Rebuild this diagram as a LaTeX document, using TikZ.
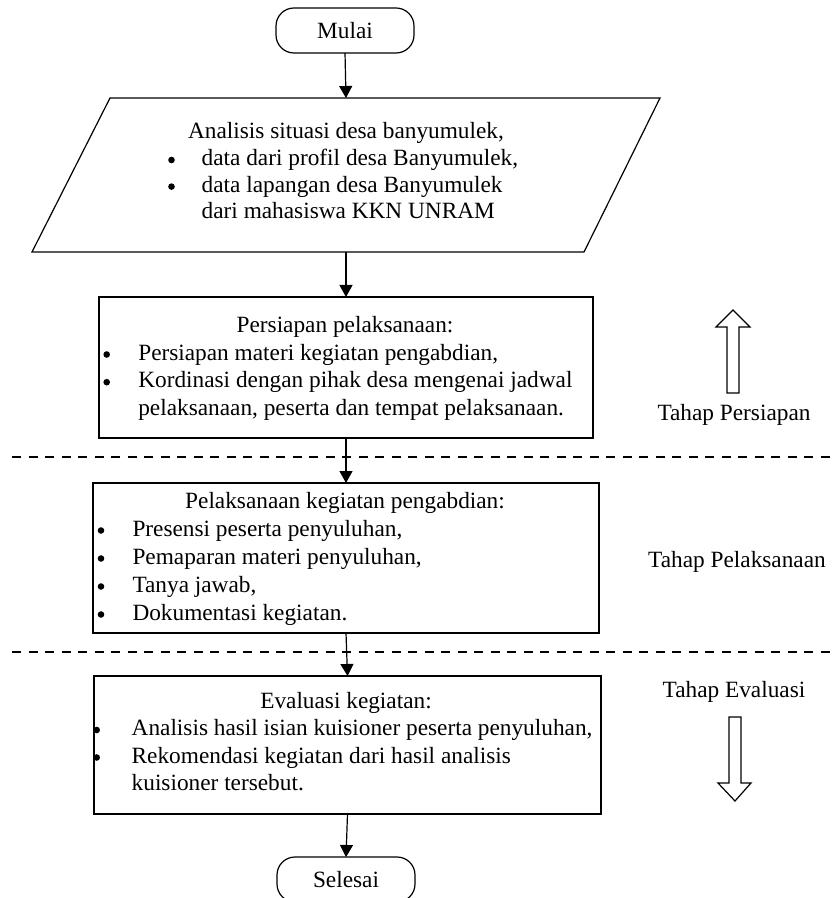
\documentclass[tikz,border=0pt]{standalone}
\usepackage{fontspec}
\setmainfont{Liberation Serif}
\usetikzlibrary{arrows.meta,calc}
\begin{document}
\begin{tikzpicture}[x=0.5pt,y=-0.5pt, line width=0.6pt,
  every node/.style={font=\fontsize{11.65}{14}\selectfont, inner sep=0pt, outer sep=0pt},
  term/.style={draw, rounded corners=9pt, minimum width=69pt, minimum height=22.5pt},
  box/.style={draw},
  flow/.style={-{Triangle[length=6pt,width=6.5pt]}},
  phase/.style={dash pattern=on 4.5pt off 3.75pt},
  lst/.style={anchor=base west, align=left},
  ttl/.style={anchor=base},
  dot/.style={fill=black},
]
\useasboundingbox (0,0) rectangle (836,898);
\fill[white] (0,0) rectangle (836,898);

% terminators
\node[term] (mulai) at (345,30.5) {Mulai};
\node[term] (selesai) at (346,879.5) {Selesai};

% parallelogram
\node[minimum width=314pt, minimum height=77pt] (para) at (346,175) {};
\draw (para.south west) -- ($(para.north west)+(78,0)$) -- (para.north east) -- ($(para.south east)+(-76,0)$) -- cycle;
\node[ttl] (paraT) at (346,138.5) {Analisis situasi desa banyumulek,};
\node[lst] (paraL) at (201.7,165.5) {\renewcommand\arraystretch{0.95}\begin{tabular}[t]{@{}l@{}}
data dari profil desa Banyumulek,\\
data lapangan desa Banyumulek\\
dari mahasiswa KKN UNRAM\end{tabular}};
\fill[dot] (171.5,160) circle (1.65pt);
\fill[dot] (171.5,186.6) circle (1.65pt);

% box 1
\node[box, minimum width=247pt, minimum height=70.5pt] (b1) at (346,367.5) {};
\node[ttl] (b1T) at (345,332) {Persiapan pelaksanaan:};
\node[lst] (b1L) at (138.3,360) {\renewcommand\arraystretch{0.99}\begin{tabular}[t]{@{}l@{}}
Persiapan materi kegiatan pengabdian,\\
Kordinasi dengan pihak desa mengenai jadwal\\
pelaksanaan, peserta dan tempat pelaksanaan.\end{tabular}};
\fill[dot] (106.7,354.5) circle (1.65pt);
\fill[dot] (106.7,382.2) circle (1.65pt);

% box 2
\node[box, minimum width=253pt, minimum height=75pt] (b2) at (346,558) {};
\node[ttl] (b2T) at (345,508) {Pelaksanaan kegiatan pengabdian:};
\node[lst] (b2L) at (132.5,536) {\begin{tabular}[t]{@{}l@{}}
Presensi peserta penyuluhan,\\
Pemaparan materi penyuluhan,\\
Tanya jawab,\\
Dokumentasi kegiatan.\end{tabular}};
\fill[dot] (101,530.5) circle (1.65pt);
\fill[dot] (101,558.5) circle (1.65pt);
\fill[dot] (101,586.5) circle (1.65pt);
\fill[dot] (101,614.5) circle (1.65pt);

% box 3
\node[box, minimum width=253.5pt, minimum height=69pt] (b3) at (347.5,745) {};
\node[ttl] (b3T) at (346,708) {Evaluasi kegiatan:};
\node[lst] (b3L) at (131.7,735.5) {\renewcommand\arraystretch{0.982}\begin{tabular}[t]{@{}l@{}}
Analisis hasil isian kuisioner peserta penyuluhan,\\
Rekomendasi kegiatan dari hasil analisis\\
kuisioner tersebut.\end{tabular}};
\fill[dot] (96.7,730) circle (1.65pt);
\fill[dot] (96.7,757.5) circle (1.65pt);

% connectors
\draw[flow] (mulai.south) -- (para.north);
\draw[flow] (para.south) -- (b1.north);
\draw[flow] (b1.south) -- (b2.north);
\draw[flow] (b2.south) -- (b3.north);
\draw[flow] (b3.south) -- (selesai.north);

% phase separators
\draw[phase] (12,457) -- (836,457);
\draw[phase] (12,652) -- (836,652);

% phase labels
\node[ttl] (lp1) at (734,420) {Tahap Persiapan};
\node[ttl] (lp2) at (737,567) {Tahap Pelaksanaan};
\node[ttl] (lp3) at (734,697) {Tahap Evaluasi};

% hollow arrows
\draw (727,393) -- (727,327) -- (716,327) -- (733,310) -- (750,327) -- (739,327) -- (739,393) -- cycle;
\draw (729,717) -- (741,717) -- (741,783) -- (751,783) -- (735,801) -- (718,783) -- (729,783) -- cycle;
\end{tikzpicture}
\end{document}
